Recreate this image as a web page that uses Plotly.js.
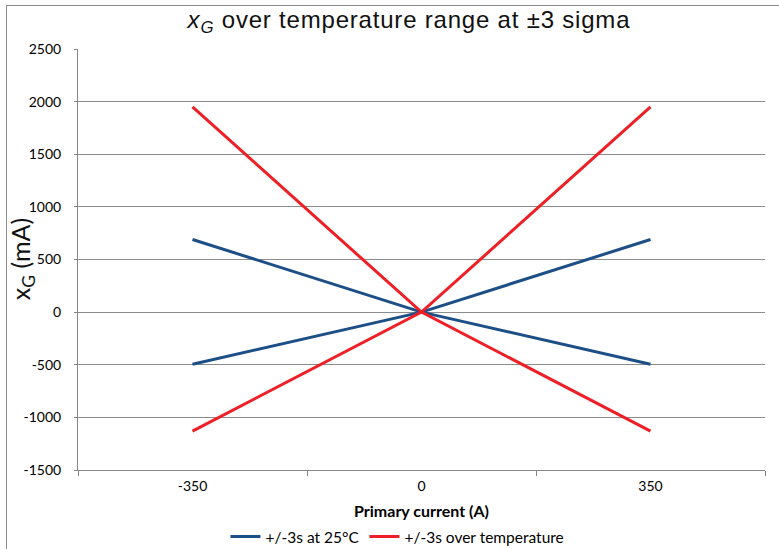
<!DOCTYPE html>
<html>
<head>
<meta charset="utf-8">
<script src="https://cdn.plot.ly/plotly-3.0.1.min.js"></script>
<style>
  html, body { margin: 0; padding: 0; background: #fff; }
  #frame { position: absolute; left: 6px; top: 5px; width: 800px; height: 600px; border: 1px solid #8c8c8c; }
  #chart { position: absolute; left: 0; top: 0; width: 779px; height: 549px; }
  .gtitle { letter-spacing: 0.8px; }
</style>
</head>
<body>
<div id="frame"></div>
<div id="chart"></div>
<script>
const categories = ['-350', '0', '350'];
const tickLabels = ['-1500', '-1000', '-500', '0', '500', '1000', '1500', '2000', '2500'];
const seriesNames = ['+/-3s at 25°C', '+/-3s over temperature'];
const at25Up = [690, 0, -495];
const at25Down = [-495, 0, 690];
const overTempUp = [1950, 0, -1130];
const overTempDown = [-1130, 0, 1950];

const blue = '#1d4f87';
const red = '#ee1f26';

function tr(y, name, color, show, group) {
  return {
    type: 'scatter', mode: 'lines', x: categories, y: y, name: name,
    line: { color: color, width: 3 }, showlegend: show, legendgroup: group,
    hoverinfo: 'x+y'
  };
}

const data = [
  tr(at25Up, seriesNames[0], blue, true, 'a'),
  tr(at25Down, seriesNames[0], blue, false, 'a'),
  tr(overTempUp, seriesNames[1], red, true, 'b'),
  tr(overTempDown, seriesNames[1], red, false, 'b')
];

const layout = {
  width: 779, height: 549,
  margin: { l: 78, r: 14, t: 49, b: 79, autoexpand: false },
  paper_bgcolor: 'rgba(0,0,0,0)',
  plot_bgcolor: 'rgba(0,0,0,0)',
  font: { family: 'Lato, "Open Sans", sans-serif', size: 14, color: '#000' },
  title: {
    text: '<i>x</i><sub><i>G</i></sub> over temperature range at ±3 sigma',
    font: { family: '"Liberation Sans", Arial, sans-serif', size: 24, color: '#111' },
    xref: 'container', x: 0.525, xanchor: 'center',
    yref: 'container', y: 0.965, yanchor: 'middle'
  },
  xaxis: {
    type: 'category',
    range: [-0.5, 2.5],
    automargin: false,
    tickson: 'boundaries',
    ticks: 'outside', ticklen: 5, tickcolor: '#868686',
    showline: true, linecolor: '#868686', linewidth: 1,
    showgrid: false, zeroline: false,
    tickfont: { size: 14 },
    ticklabelstandoff: 3,
    title: { text: '<b>Primary current (A)</b>', font: { size: 16 }, standoff: 13 }
  },
  yaxis: {
    range: [-1500, 2500],
    automargin: false,
    tickmode: 'array',
    tickvals: tickLabels.map(Number),
    ticktext: tickLabels,
    ticks: 'outside', ticklen: 3, tickcolor: '#868686',
    showline: true, linecolor: '#868686', linewidth: 1,
    showgrid: true, gridcolor: '#8c8c8c', gridwidth: 1,
    zeroline: false,
    tickfont: { size: 14 },
    ticklabelstandoff: 10
  },
  annotations: [{
    text: 'x<sub>G</sub> (mA)',
    xref: 'paper', yref: 'paper', x: -0.082, y: 0.5,
    xanchor: 'center', yanchor: 'middle', textangle: -90, showarrow: false,
    font: { family: 'Lato, "Open Sans", sans-serif', size: 25, color: '#111' }
  }],
  showlegend: true,
  legend: {
    orientation: 'h', x: 0.465, xanchor: 'center', y: -0.159, yanchor: 'middle',
    font: { size: 15.5 }, bgcolor: 'rgba(0,0,0,0)'
  }
};

Plotly.newPlot('chart', data, layout, { displayModeBar: false, staticPlot: true });
</script>
</body>
</html>
